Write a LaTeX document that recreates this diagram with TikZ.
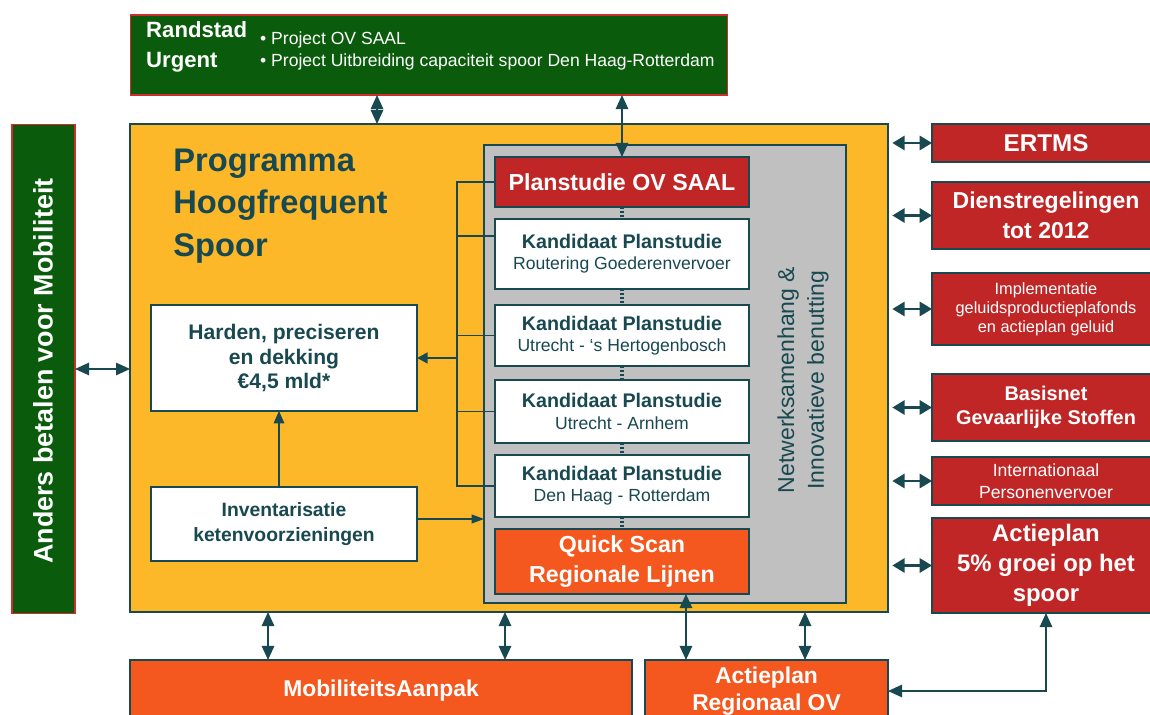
\documentclass[tikz,border=0pt]{standalone}
\usepackage{fontspec}
\setmainfont{Liberation Sans}
\usetikzlibrary{arrows.meta}
\definecolor{darkgreen}{RGB}{10,92,12}
\definecolor{urgentred}{RGB}{205,45,45}
\definecolor{progyellow}{RGB}{253,184,42}
\definecolor{tealline}{RGB}{24,72,80}
\definecolor{panelgray}{RGB}{192,192,192}
\definecolor{boxred}{RGB}{192,38,38}
\definecolor{boxorange}{RGB}{245,88,30}
\newcommand{\fs}[2]{\fontsize{#1}{#2}\selectfont}
\tikzset{
  box/.style={draw=tealline,line width=0.8pt,inner sep=0pt,outer sep=0pt,align=center},
  greenbox/.style={box,draw=urgentred,line width=0.6pt,fill=darkgreen,text=white},
  redbox/.style={box,fill=boxred,text=white},
  orangebox/.style={box,fill=boxorange,text=white},
  whitebox/.style={box,fill=white,text=tealline},
  dblarrow/.style={draw=tealline,line width=1.1pt,{Triangle[length=8pt,width=7pt]}-{Triangle[length=8pt,width=7pt]}},
  sidearrow/.style={draw=tealline,line width=1.5pt,{Triangle[length=7pt,width=8pt]}-{Triangle[length=7pt,width=8pt]}},
  thinline/.style={draw=tealline,line width=0.8pt},
  dotline/.style={draw=tealline,line width=1.8pt,dash pattern=on 1.2pt off 1pt}
}
\newcommand{\kandidaat}[4]{%
  \node[whitebox,minimum width=5.08cm,minimum height=#3cm] (#1) at (622,#2)
    {{\fs{11.2}{13}\bfseries Kandidaat Planstudie}\\{\fs{10}{13.5}#4}};}

\begin{document}
\begin{tikzpicture}[x=0.02cm,y=-0.02cm]
  \useasboundingbox (0,0) rectangle (1150,715);
  \clip (0,0) rectangle (1150,715);

  \node[greenbox,minimum width=11.96cm,minimum height=1.6cm] (urgent) at (429,55) {};
  \node[anchor=west,text=white,align=left,font={\fs{12.6}{17}\bfseries}] (urgenttitle) at (140,47) {Randstad\\Urgent};
  \node[anchor=west,text=white,align=left,font={\fs{10}{13}}] (urgentlist) at (254,51) {• Project OV SAAL\\• Project Uitbreiding capaciteit spoor Den Haag-Rotterdam};
  \node[greenbox,minimum width=1.26cm,minimum height=9.8cm] (anders) at (43.5,369) {};
  \node[rotate=90,text=white,font={\fs{15.3}{18}\bfseries}] (anderstext) at (43,371) {Anders betalen voor Mobiliteit};

  \node[box,fill=progyellow,minimum width=15.16cm,minimum height=9.76cm] (phs) at (509,368) {};
  \node[anchor=north west,inner sep=0pt,align=left,text=tealline,font={\fs{18.6}{24}\bfseries}] (phstitle) at (173,149) {Programma\\Hoogfrequent\\Spoor};
  \node[box,fill=panelgray,minimum width=7.24cm,minimum height=9.16cm] (netw) at (665,374) {};
  \node[rotate=90,align=center,text=tealline,font={\fs{13.1}{17}}] (netwtext) at (803,380) {Netwerksamenhang \&\\Innovatieve benutting};

  \node[redbox,minimum width=5.08cm,minimum height=1cm,font={\fs{13.2}{16}\bfseries}] (saal) at (622,182) {Planstudie OV SAAL};
  \kandidaat{kand1}{254}{1.4}{Routering Goederenvervoer}
  \kandidaat{kand2}{335.5}{1.22}{Utrecht - ‘s Hertogenbosch}
  \kandidaat{kand3}{411.5}{1.26}{Utrecht - Arnhem}
  \kandidaat{kand4}{486}{1.24}{Den Haag - Rotterdam}
  \node[orangebox,minimum width=5.08cm,minimum height=1.3cm,font={\fs{13.2}{17}\bfseries}] (quick) at (622,561.5) {Quick Scan\\Regionale Lijnen};

  \node[whitebox,minimum width=5.32cm,minimum height=2.12cm,font={\fs{12}{14}\bfseries}] (harden) at (284,358) {Harden, preciseren\\en dekking\\€4,5 mld*};
  \node[whitebox,minimum width=5.32cm,minimum height=1.48cm,font={\fs{11}{14}\bfseries}] (invent) at (284,524) {Inventarisatie\\ketenvoorzieningen};

  \node[redbox,minimum width=4.56cm,minimum height=0.76cm,font={\fs{13.8}{17}\bfseries}] (ertms) at (1046,143) {ERTMS};
  \node[redbox,minimum width=4.56cm,minimum height=1.34cm,font={\fs{13.1}{17}\bfseries}] (dienst) at (1046,215.5) {Dienstregelingen\\tot 2012};
  \node[redbox,minimum width=4.56cm,minimum height=1.44cm,font={\fs{9.3}{10.8}}] (geluid) at (1046,309) {Implementatie\\geluidsproductieplafonds\\en actieplan geluid};
  \node[redbox,minimum width=4.56cm,minimum height=1.34cm,font={\fs{11.3}{13.6}\bfseries}] (basisnet) at (1046,407.5) {Basisnet\\Gevaarlijke Stoffen};
  \node[redbox,minimum width=4.56cm,minimum height=0.96cm,font={\fs{10}{12.5}}] (intl) at (1046,481) {Internationaal\\Personenvervoer};
  \node[redbox,minimum width=4.56cm,minimum height=1.9cm,font={\fs{13.6}{17}\bfseries}] (groei) at (1046,565.5) {Actieplan\\5\% groei op het\\spoor};

  \node[orangebox,minimum width=10.04cm,minimum height=1.24cm,font={\fs{13}{15}\bfseries}] (mob) at (381,691) {MobiliteitsAanpak};
  \node[orangebox,minimum width=4.86cm,minimum height=1.24cm,font={\fs{13}{15.3}\bfseries}] (regov) at (766.5,691) {Actieplan\\Regionaal OV};

  % connectors
  \coordinate (brk) at (457,182);
  \draw[thinline] (saal.west) -- (saal.west -| brk) -- (kand4.west -| brk) -- (kand4.west);
  \draw[thinline] ([yshift=0.36cm]kand1.west) -- ([yshift=0.36cm]kand1.west -| brk);
  \draw[thinline] (kand2.west) -- (kand2.west -| brk);
  \draw[thinline] (kand3.west) -- (kand3.west -| brk);
  \draw[thinline,line width=1.4pt,-{Triangle[length=6pt,width=6pt]}] (harden.east -| brk) -- (harden.east);
  \draw[thinline,-{Triangle[length=7pt,width=6pt]}] ([xshift=-0.1cm]invent.north) -- ([xshift=-0.1cm]harden.south);
  \draw[thinline,-{Triangle[length=7pt,width=5pt]}] ([yshift=0.1cm]invent.east) -- ([yshift=0.1cm]invent.east -| netw.west);
  \foreach \a/\b in {saal/kand1,kand1/kand2,kand2/kand3,kand3/kand4,kand4/quick}
    \draw[dotline] (\a.south) -- (\b.north);

  \draw[dblarrow] ([xshift=-1.04cm]urgent.south) -- ([xshift=-1.04cm]urgent.south |- phs.north);
  \draw[dblarrow] (saal.north |- urgent.south) -- (saal.north);
  \draw[dblarrow] (anders.east) -- (anders.east -| phs.west);
  \foreach \n in {ertms,dienst,geluid,basisnet,intl,groei}
    \draw[sidearrow,shorten <=2.5pt] (\n.west -| phs.east) -- (\n.west);

  \draw[dblarrow] ([xshift=-2.26cm]mob.north |- phs.south) -- ([xshift=-2.26cm]mob.north);
  \draw[dblarrow] ([xshift=2.48cm]mob.north |- phs.south) -- ([xshift=2.48cm]mob.north);
  \draw[dblarrow] ([xshift=1.28cm]quick.south) -- ([xshift=1.28cm]quick.south |- regov.north);
  \draw[dblarrow] ([xshift=0.77cm]regov.north |- phs.south) -- ([xshift=0.77cm]regov.north);
  \draw[dblarrow] (groei.south) |- (regov.east);
\end{tikzpicture}
\end{document}
